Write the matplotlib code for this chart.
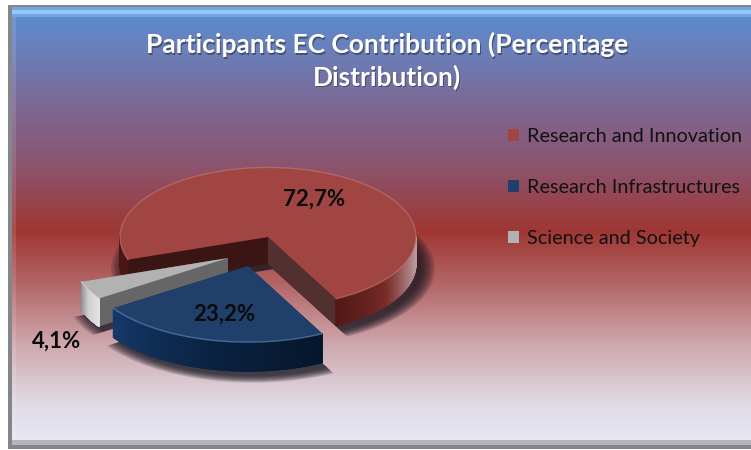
import numpy as np
import matplotlib
matplotlib.use("Agg")
import matplotlib.pyplot as plt
from matplotlib.collections import PolyCollection
from matplotlib.colors import LinearSegmentedColormap
from matplotlib.patches import Rectangle

categories = ["Research and Innovation", "Research Infrastructures", "Science and Society"]
shares = [72.7, 23.2, 4.1]
title = "Participants EC Contribution (Percentage\nDistribution)"

W, H = 751, 450
SQUASH = 0.47
START = 199.0
plt.rcParams["font.family"] = ["Lato", "DejaVu Sans"]

slice_geometry = [(268, 237, 148), (248, 266, 162), (228, 258, 155)]
slice_depths = [27, 29, 28]
top_colors = ["#a04541", "#20406b", "#b2b2b2"]
cut_colors = [("#3b1513", "#52302f"), ("#0b2240", "#0b2240"), ("#666666", "#666666")]
side_stops = [["#4a1512", "#7a2c29", "#b89a9a"], ["#05162b", "#0a2342", "#17386a"], ["#8a8a8a", "#cfcfcf", "#e2e2e2"]]
rim_colors = ["#c07a74", "#5f92c0", "#d8d8d8"]
label_pos = [(314, 199), (224, 314), (57, 341)]


def Y(py):
    return (H - py) / SQUASH


fig = plt.figure(figsize=(W / 100, H / 100), dpi=100, facecolor="white")
ax = fig.add_axes([0, 0, 1, 1])

grad_pos = [0, 0.1, 0.23, 0.35, 0.51, 0.63, 0.77, 0.9, 1]
grad_col = ["#5a8dd3", "#6a7fba", "#7e6792", "#8a5672", "#9f3733", "#b36667", "#cfa9af", "#e0dae4", "#e9e9f5"]
bg = LinearSegmentedColormap.from_list("bg", list(zip(grad_pos, grad_col)))
ax.imshow(np.linspace(0, 1, 256)[:, None], cmap=bg, aspect="auto", zorder=0,
          extent=[11, W, Y(448), Y(6)], origin="upper")
# bevelled frame
ax.add_patch(Rectangle((11, Y(17)), W, Y(7) - Y(17), fc="#74a6e4", ec="none", zorder=1))
ax.add_patch(Rectangle((11, Y(14)), W, Y(10) - Y(14), fc="#98c6f5", ec="none", zorder=1))
ax.add_patch(Rectangle((11, Y(448)), W, Y(440) - Y(448), fc="#b4b4bc", ec="none", zorder=1))
ax.add_patch(Rectangle((11, Y(449)), W, Y(445) - Y(449), fc="#85858c", ec="none", zorder=1))
ax.add_patch(Rectangle((11, Y(440)), 5, Y(17) - Y(440), fc="white", alpha=0.12, ec="none", zorder=1))
ax.add_patch(Rectangle((8, Y(449)), 3.5, Y(5) - Y(449), fc="#85858c", ec="none", zorder=1))
ax.add_patch(Rectangle((8, Y(7)), W, Y(5) - Y(7), fc="#85858c", ec="none", zorder=1))

edges = START - np.cumsum([0] + shares) * 3.6
z = 2
legend_handles = []
order = [0, 2, 1]
for i in order:
    cx, cy, r = slice_geometry[i]
    depth = slice_depths[i]
    a0, a1 = edges[i + 1], edges[i]
    t = np.radians(np.linspace(a0, a1, 300))
    base = Y(cy)

    # soft shadow beneath the slice
    for grow in np.linspace(14, 0, 10):
        w, _ = ax.pie([shares[i] / 100], startangle=a0, radius=r + grow,
                      center=(cx + 5, base - (depth + 5) / SQUASH),
                      colors=["#14141e"], normalize=False, frame=True)
        w[0].set_alpha(0.13)
        w[0].set_zorder(z)
    z += 1

    # flat faces along the cuts
    for a, col in zip((a1, a0), cut_colors[i]):
        ar = np.radians(a)
        px, py = cx + r * np.cos(ar), base + r * np.sin(ar)
        ax.fill([cx, px, px, cx], [base, py, py - depth / SQUASH, base - depth / SQUASH], color=col, lw=0, zorder=z)
    z += 1

    # curved outer wall with a horizontal shading
    cm = LinearSegmentedColormap.from_list("s", side_stops[i])
    xs, ys = cx + r * np.cos(t), base + r * np.sin(t)
    quads, shade = [], []
    for j in range(len(t) - 1):
        if np.sin(t[j]) > 0.02 or np.sin(t[j + 1]) > 0.02:
            continue
        quads.append([(xs[j], ys[j]), (xs[j + 1], ys[j + 1]),
                      (xs[j + 1], ys[j + 1] - depth / SQUASH), (xs[j], ys[j] - depth / SQUASH)])
        if i == 0:
            shade.append(np.clip(np.cos(t[j]), 0, 1) ** 3)
        elif i == 1:
            shade.append(1 - j / len(t))
        else:
            shade.append(j / len(t))
    ax.add_collection(PolyCollection(quads, facecolors=[cm(s) for s in shade], edgecolors="face", linewidths=0.8, zorder=z))
    z += 1

    # top surface
    w, _ = ax.pie([shares[i] / 100], startangle=a0, radius=r, center=(cx, base), colors=[top_colors[i]],
                  normalize=False, frame=True)
    w[0].set_zorder(z)
    w[0].set_label(categories[i])
    legend_handles.append((i, w[0]))
    z += 1
    ax.plot(xs, ys, color=rim_colors[i], lw=1.0, alpha=0.6, zorder=z, solid_capstyle="round")
    z += 1

ax.set_aspect("auto")
ax.set_xlim(0, W)
ax.set_ylim(0, H / SQUASH)
ax.axis("off")

for share, (lx, ly) in zip(shares, label_pos):
    ax.text(lx, Y(ly), f"{share:.1f}%".replace(".", ","), ha="center", va="center", fontsize=16,
            fontweight="bold", color="#0a0a0a", zorder=50)

for dx, dy, col, al in [(1.5, 1.5, "#303040", 0.6), (0, 0, "white", 1)]:
    ax.text(387 + dx, Y(61 + dy), title, ha="center", va="center", fontsize=19, fontweight="bold",
            color=col, alpha=al, linespacing=1.34, zorder=50)

handles = [h for _, h in sorted(legend_handles, key=lambda p: p[0])]
leg = fig.legend(handles=handles, labels=categories, loc="upper left", bbox_to_anchor=(508 / W, 1 - 128 / H),
                 frameon=False, fontsize=14.3, handlelength=0.55, handleheight=0.55, handletextpad=0.42,
                 labelspacing=1.72, borderpad=0, borderaxespad=0, labelcolor="#111111")

fig.savefig("out.png", dpi=100)
